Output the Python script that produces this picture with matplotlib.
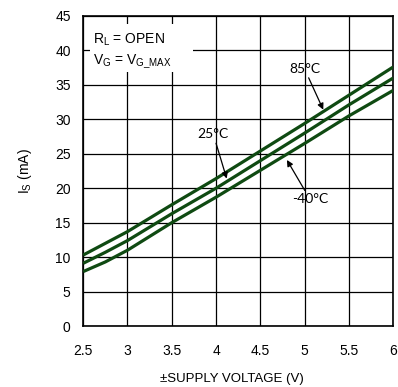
import matplotlib
matplotlib.use("Agg")
import matplotlib.pyplot as plt
from matplotlib.patches import Rectangle

plt.rcParams['font.family'] = ['Liberation Sans', 'DejaVu Sans']
plt.rcParams['mathtext.fontset'] = 'custom'
plt.rcParams['mathtext.rm'] = 'Liberation Sans'
plt.rcParams['mathtext.it'] = 'Liberation Sans'

# Data
supply_v = [2.5, 2.75, 3.0, 3.5, 4.0, 4.5, 5.0, 5.5, 6.0]
is_85 = [10.3, 12.0, 13.7, 17.6, 21.4, 25.4, 29.4, 33.5, 37.6]
is_25 = [9.1, 10.7, 12.4, 16.3, 20.0, 24.0, 28.0, 32.1, 36.0]
is_m40 = [7.9, 9.3, 11.0, 15.0, 18.7, 22.6, 26.5, 30.5, 34.2]
x_ticks = [2.5, 3, 3.5, 4, 4.5, 5, 5.5, 6]
x_ticklabels = ['2.5', '3', '3.5', '4', '4.5', '5', '5.5', '6']
y_ticks = [0, 5, 10, 15, 20, 25, 30, 35, 40, 45]

line_color = '#0f4a12'

fig = plt.figure(figsize=(3.98, 3.87), dpi=100)
ax = fig.add_axes([0.209, 0.1576, 0.779, 0.8011])

for ys in (is_85, is_25, is_m40):
    ax.plot(supply_v, ys, color=line_color, lw=2.3, zorder=3, solid_capstyle='butt')

ax.set_xlim(2.5, 6)
ax.set_ylim(0, 45)
ax.set_xticks(x_ticks)
ax.set_xticklabels(x_ticklabels)
ax.set_yticks(y_ticks)
ax.tick_params(axis='both', length=0, labelsize=10, colors='black')
ax.tick_params(axis='x', pad=13)
ax.tick_params(axis='y', pad=9)
ax.grid(True, color='black', lw=0.9)
ax.set_axisbelow(True)
for s in ax.spines.values():
    s.set_color('black')
    s.set_linewidth(1.2)

ax.set_xlabel('±SUPPLY VOLTAGE (V)', fontsize=9.5)
ax.xaxis.set_label_coords(0.48, -0.152)
ax.set_ylabel(r'I$_\mathregular{S}$ (mA)', fontsize=10)
ax.yaxis.set_label_coords(-0.16, 0.5)

# White box for conditions
ax.add_patch(Rectangle((2.58, 36.9), 1.16, 7.0, facecolor='white',
                       edgecolor='none', zorder=1))
ax.text(2.61, 41.6, r'R$_\mathregular{L}$ = OPEN', fontsize=10, va='center', ha='left', zorder=4)
ax.text(2.61, 38.3, r'V$_\mathregular{G}$ = V$_\mathregular{G\_MAX}$', fontsize=10,
        va='center', ha='left', zorder=4)

ann_font = ['Lato', 'DejaVu Sans']
arrow = dict(arrowstyle='-|>', color='black', lw=0.9, mutation_scale=9, shrinkA=0, shrinkB=0)
ax.annotate('85°C', xy=(5.21, 31.4), xytext=(5.0, 37.3), fontsize=10, family=ann_font,
            ha='center', va='center', arrowprops=arrow, zorder=5)
ax.annotate('25°C', xy=(4.12, 21.4), xytext=(3.97, 27.8), fontsize=10, family=ann_font,
            ha='center', va='center', arrowprops=arrow, zorder=5)
ax.annotate('-40°C', xy=(4.80, 24.1), xytext=(5.06, 18.4), fontsize=10, family=ann_font,
            ha='center', va='center', arrowprops=arrow, zorder=5)

fig.savefig('out.png', dpi=100)
